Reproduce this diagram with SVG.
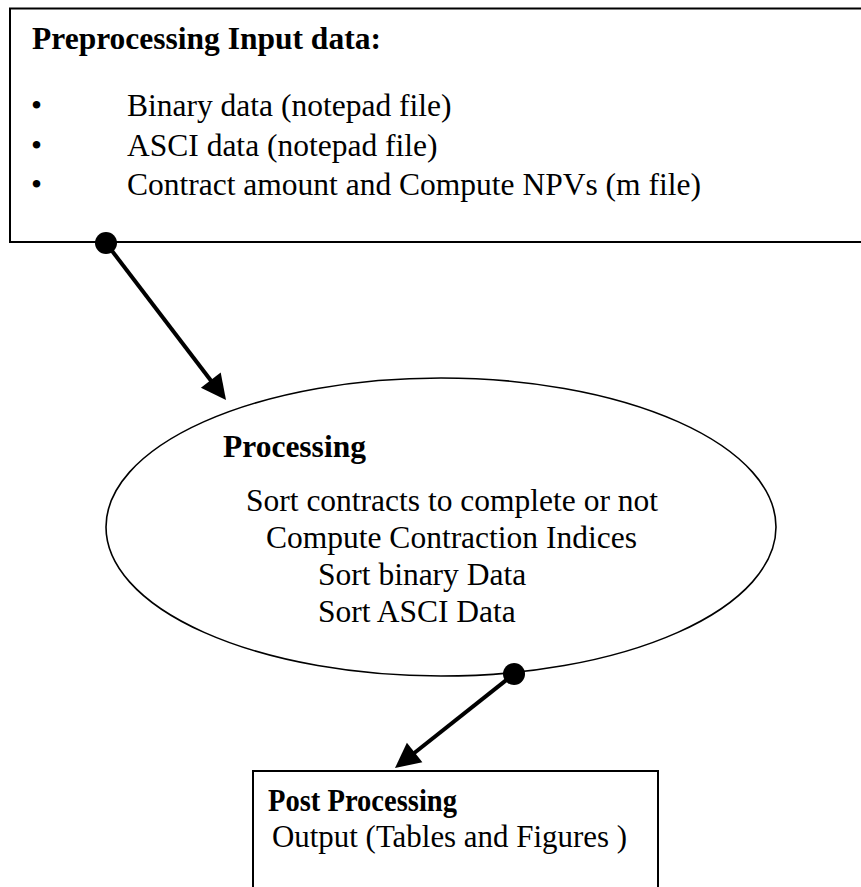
<svg xmlns="http://www.w3.org/2000/svg" width="861" height="887" viewBox="0 0 861 887">
<style>
.box{fill:#fff;stroke:#000;stroke-width:2}
.ell{fill:#fff;stroke:#000;stroke-width:1.6}
.t{font-family:"Liberation Serif","Times New Roman",serif;font-size:31.5px;fill:#000}
.b{font-weight:bold}
.ln{stroke:#000;stroke-width:4;fill:none}
.hd{fill:#000;stroke:none}
</style>
<rect width="861" height="887" fill="#fff"/>
<g id="preprocessing">
<rect class="box" x="10" y="8.5" width="900" height="233.5"/>
<text class="t b" x="32" y="49">Preprocessing Input data:</text>
<text class="t" x="31" y="116">•</text>
<text class="t" x="127" y="116">Binary data (notepad file)</text>
<text class="t" x="31" y="156">•</text>
<text class="t" x="127" y="156">ASCI data (notepad file)</text>
<text class="t" x="31" y="195">•</text>
<text class="t" x="127" y="195">Contract amount and Compute NPVs (m file)</text>
</g>
<g id="processing">
<ellipse class="ell" cx="441" cy="527" rx="335" ry="149"/>
<text class="t b" x="223" y="457">Processing</text>
<text class="t" x="246" y="511">Sort contracts to complete or not</text>
<text class="t" x="266" y="548">Compute Contraction Indices</text>
<text class="t" x="318" y="585">Sort binary Data</text>
<text class="t" x="318" y="622">Sort ASCI Data</text>
</g>
<g id="postprocessing">
<rect class="box" x="253" y="771" width="405" height="140"/>
<text class="t b" x="268" y="811" textLength="189" lengthAdjust="spacingAndGlyphs">Post Processing</text>
<text class="t" x="272" y="847" textLength="355" lengthAdjust="spacingAndGlyphs">Output (Tables and Figures )</text>
</g>
<g id="connectors">
<line class="ln" x1="106" y1="243" x2="212" y2="382"/>
<polygon class="hd" points="226,400 200.9,387.7 220.7,372.5"/>
<circle class="hd" cx="106" cy="243" r="11"/>
<line class="ln" x1="514" y1="674" x2="413" y2="754"/>
<polygon class="hd" points="395,768 406.9,742.7 422.4,762.3"/>
<circle class="hd" cx="514" cy="674" r="11"/>
</g>
</svg>
